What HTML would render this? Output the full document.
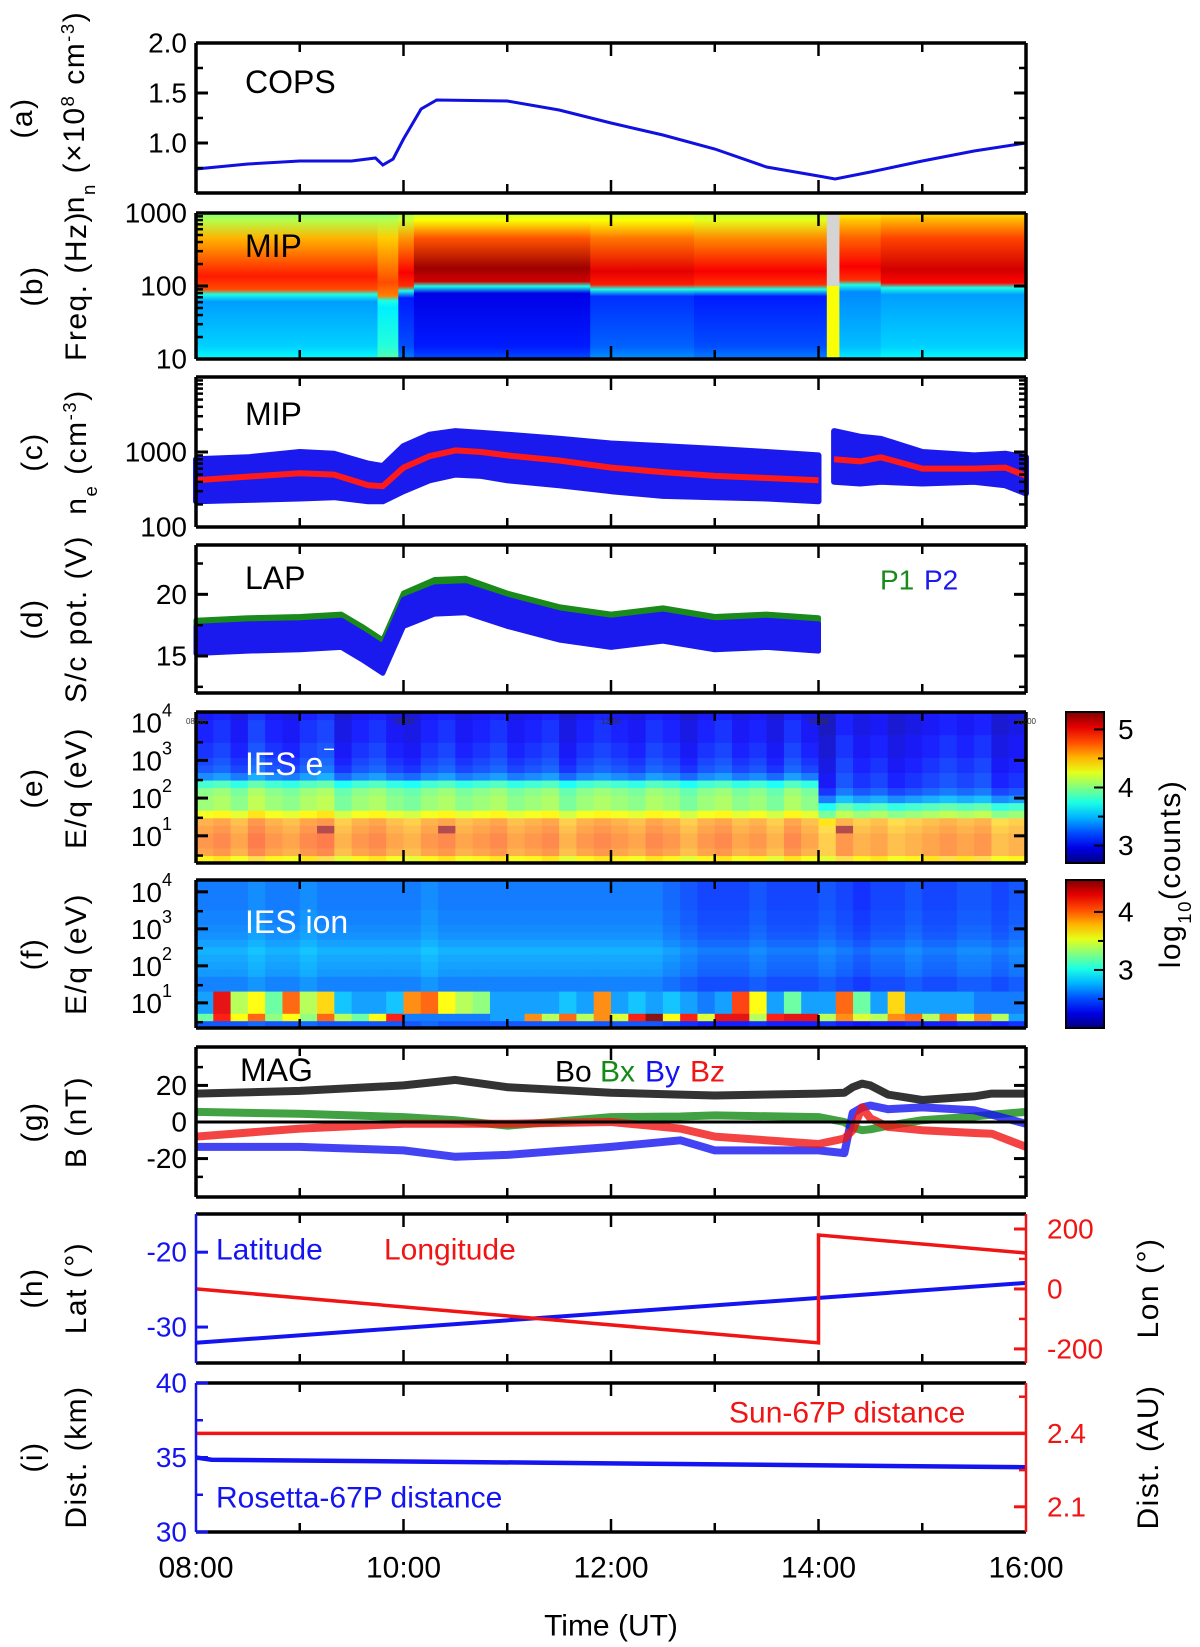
<!DOCTYPE html>
<html><head><meta charset="utf-8">
<style>
body{margin:0;background:#fff;}
svg{display:block;font-family:"Liberation Sans",Arial,sans-serif;}
</style></head>
<body>
<svg id="chart" width="1200" height="1647" viewBox="0 0 1200 1647" xmlns="http://www.w3.org/2000/svg"><defs id="defs"></defs></svg>
<script>
// ---------- DATA ----------
const hourTicks=[8,9,10,11,12,13,14,15,16];
const hourLabels=['08:00','','10:00','','12:00','','14:00','','16:00'];
// (a) COPS neutral density
const copsTime=[8.0,8.5,9.0,9.5,9.73,9.8,9.9,10.0,10.17,10.32,11.0,11.5,12.0,12.5,13.0,13.5,14.0,14.16,14.5,15.0,15.5,16.0];
const copsVal=[0.74,0.79,0.82,0.82,0.85,0.78,0.84,1.04,1.34,1.43,1.42,1.33,1.2,1.08,0.94,0.76,0.67,0.64,0.71,0.82,0.92,1.0];
// (b) MIP spectrogram segments
const bStart=[8.0,9.75,9.95,10.1,11.8,12.8,14.2,14.6];
const bEnd=[9.75,9.95,10.1,11.8,12.8,14.08,14.6,16.0];
const bCutoff=[85,70,95,110,100,100,115,105];
const bTopLevel=[0.55,0.55,0.58,0.62,0.62,0.6,0.68,0.7];
const bHotLevel=[0.85,0.8,0.88,0.97,0.9,0.88,0.88,0.92];
const bLowLevel=[0.28,0.36,0.15,0.1,0.17,0.15,0.26,0.28];
const bGap=[14.08,14.2];
// (c) MIP electron density
const cTime=[8.0,8.5,9.0,9.33,9.66,9.8,10.0,10.25,10.5,10.75,11.0,11.5,12.0,12.5,13.0,13.5,14.0,null,14.15,14.4,14.6,15.0,15.5,15.8,16.0];
const cMed=[420,470,520,500,360,350,620,880,1050,1000,900,770,620,540,480,450,420,null,800,750,850,600,600,620,480];
const cUp=[800,850,1000,950,700,650,1200,1700,1900,1800,1700,1500,1300,1200,1100,1000,900,null,1900,1600,1500,1000,900,950,850];
const cLo=[220,230,240,250,220,220,300,420,500,480,420,360,300,260,250,240,220,null,400,380,400,380,400,360,280];
// (d) LAP S/C potential
const dTime=[8.0,8.5,9.0,9.4,9.6,9.8,10.0,10.3,10.6,11.0,11.5,12.0,12.5,13.0,13.5,14.0];
const dP2=[16.3,16.5,16.6,16.8,15.8,14.7,18.5,19.5,19.6,18.5,17.4,16.8,17.3,16.6,16.8,16.5];
const dP1=[16.8,17.0,17.1,17.3,16.3,15.2,19.0,20.1,20.2,19.0,17.9,17.3,17.8,17.1,17.3,17.0];
// (e) IES electrons: row profiles (bottom->top, 0.2 decade bins from 10^0.28)
const eRowEarly=[4.35,4.65,4.7,4.7,4.65,4.6,4.3,4.05,4.05,4.0,3.8,3.35,3.2,3.15,3.1,3.1,3.05,3.05,3.05,3.0];
const eRowLate=[4.35,4.6,4.6,4.6,4.55,4.5,4.05,3.8,3.4,3.2,3.1,3.1,3.05,3.05,3.0,3.0,3.0,2.95,2.95,2.95];
const eCol=[0,0.05,-0.05,0.1,0,-0.05,0.05,0.1,-0.1,0,0.05,-0.05,-0.1,0,0.05,-0.05,0,0.05,-0.05,0,0.05,-0.1,0,0.05,0,-0.05,0.05,0,-0.1,0,0.05,-0.05,0,-0.1,0.05,-0.05,-0.1,0.1,0,0.05,-0.05,0,0.05,0.1,0.05,0.1,-0.05,0];
const eSpotCol=[7,14,37];
const eSpotRow=[4,4,4];
const eSpotVal=[5.25,5.25,5.25];
// (f) IES ions
const fRowBg=[2.5,2.6,2.6,2.6,2.6,2.62,2.62,2.68,2.7,2.72,2.75,2.7,2.66,2.64,2.62,2.62,2.6,2.6,2.6,2.6];
const fLow=[3.2,4.2,3.6,4.0,3.3,3.6,3.3,4.0,3.4,3.2,3.6,4.2,2.6,2.6,2.6,2.6,2.6,2.7,2.7,3.9,3.4,4.0,3.4,3.9,3.5,4.2,4.55,3.6,4.2,3.5,4.3,4.3,3.4,4.2,4.3,4.3,3.4,3.9,3.5,3.4,3.9,4.0,3.4,4.0,3.5,3.9,3.4,2.7];
const fHigh=[2.7,4.3,3.4,3.6,3.2,4.0,3.4,3.7,2.8,2.7,2.7,2.8,3.9,4.0,3.6,3.4,3.3,2.7,2.7,2.7,2.7,2.8,2.7,3.9,2.7,2.8,2.7,2.8,2.7,2.6,2.7,4.1,3.6,2.7,3.2,2.7,2.7,4.0,3.2,2.7,3.7,2.7,2.7,2.7,2.7,2.6,2.6,2.6];
const fCol=[0,0,0,0.05,0,0,0.05,0,0,0,0,0,0,0.05,0,0,0,0,0,0,0,0,0,0,0,0,0,-0.05,-0.1,-0.15,-0.15,-0.15,-0.1,-0.15,-0.15,-0.15,-0.1,-0.15,-0.2,-0.15,-0.15,-0.1,-0.15,-0.15,-0.1,-0.1,-0.15,-0.1];
// (g) MAG
const gTime=[8.0,9.0,10.0,10.5,11.0,12.0,12.67,13.0,14.0,14.25,14.33,14.42,14.5,14.67,15.0,15.5,15.67,16.0];
const gBo=[15.5,17,20,23,19,16,15,14.5,15.5,16,19,21,20,15,12,14,15.5,15.5];
const gBx=[5.5,4.5,2.7,1,-2,2.7,3,3.6,2.7,0,-3,-4.5,-4,-2,1,3,4,5.5];
const gBy=[-13.6,-13.6,-15.5,-19,-18,-13.6,-10,-15.5,-15.5,-17,5,8,9,7,8,6.4,4,-1];
const gBz=[-8,-3.6,-1,-1,-1,0,-3.6,-8,-12,-9,-4.5,8,2,-2.7,-4.5,-6,-6.4,-13.6];
// (h) Lat / Lon
const hTime=[8.0,16.0];
const hLat=[-32.1,-24.1];
const lonTime=[8.0,14.0,14.0,16.0];
const lonVal=[0,-180,180,120];
// (i) distances
const iTime=[8.0,8.15,16.0];
const iKm=[35.0,34.85,34.35];
const iAU=[2.4,2.4,2.4];

// ---------- HELPERS ----------
const NS='http://www.w3.org/2000/svg';
const svg=document.getElementById('chart');
const defs=document.getElementById('defs');
function mk(tag,attrs,parent){const e=document.createElementNS(NS,tag);for(const k in attrs)e.setAttribute(k,attrs[k]);(parent||svg).appendChild(e);return e;}
const X0=196,X1=1026;
function xs(t){return X0+(t-8)/8*(X1-X0);}
function lin(d0,d1,yb,yt){return v=>yb+(v-d0)/(d1-d0)*(yt-yb);}
function lg(d0,d1,yb,yt){return v=>yb+(Math.log10(v)-d0)/(d1-d0)*(yt-yb);}
function cl(v){return Math.max(0,Math.min(1,v));}
function jet(v,w){v=cl(v);let r=cl(1.5-Math.abs(4*v-3)),g=cl(1.5-Math.abs(4*v-2)),b=cl(1.5-Math.abs(4*v-1));w=w||0;
 r=r*(1-w)+w;g=g*(1-w)+w;b=b*(1-w)+w;return `rgb(${Math.round(r*255)},${Math.round(g*255)},${Math.round(b*255)})`;}
function path(ts,vs,sx,sy){let d='',pen=false;for(let i=0;i<ts.length;i++){if(ts[i]===null){pen=false;continue;}d+=(pen?'L':'M')+sx(ts[i]).toFixed(1)+','+sy(vs[i]).toFixed(1);pen=true;}return d;}
function segs(ts){const out=[];let cur=[];ts.forEach((t,i)=>{if(t===null){if(cur.length)out.push(cur);cur=[];}else cur.push(i);});if(cur.length)out.push(cur);return out;}

const P={a:[43,193],b:[213,359],c:[377,527],d:[545,693],e:[712,863],f:[880,1028],g:[1047,1197],h:[1214,1363],i:[1383,1532]};
const ya=lin(0.5,2.0,193,43), yb=lg(1,3,359,213), yc=lg(2,4,527,377), yd=lin(12,24,693,545);
const ye=lg(0.28,4.28,863,712), yf=lg(0.32,4.32,1028,880), yg=lin(-41,41,1197,1047);
const yhLat=lin(-34.8,-14.9,1363,1214), yhLon=lin(-247,250,1363,1214);
const yiKm=lin(30,40,1532,1383), yiAU=lin(1.997,2.606,1532,1383);

function frame(key,name,leftColor,rightColor){
 const [t,b]=P[key];
 const g=mk('g',{});
 
 
 mk('line',{x1:X0,y1:t,x2:X1,y2:t,stroke:'#000','stroke-width':3.5},g);
 mk('line',{x1:X0,y1:b,x2:X1,y2:b,stroke:'#000','stroke-width':3.5},g);
 mk('line',{x1:X0,y1:t,x2:X0,y2:b,stroke:leftColor||'#000','stroke-width':leftColor?2.5:3.5},g);
 mk('line',{x1:X1,y1:t,x2:X1,y2:b,stroke:rightColor||'#000','stroke-width':rightColor?2.5:3.5},g);
 hourTicks.forEach((h,i)=>{const L=(h%2===0)?13:9;const x=xs(h);
  if(h>8&&h<16){mk('line',{x1:x,y1:t,x2:x,y2:t+L,stroke:'#000','stroke-width':2.5},g);
  mk('line',{x1:x,y1:b,x2:x,y2:b-L,stroke:'#000','stroke-width':2.5},g);}});
 return g;
}
function yticks(key,scale,major,minor,color,side){
 const g=mk('g',{});
 
 
 const x=side==='right'?X1:X0, dir=side==='right'?-1:1;
 major.forEach(v=>mk('line',{x1:x,y1:scale(v),x2:x+dir*12,y2:scale(v),stroke:color||'#000','stroke-width':3},g));
 (minor||[]).forEach(v=>mk('line',{x1:x,y1:scale(v),x2:x+dir*7,y2:scale(v),stroke:color||'#000','stroke-width':2.5},g));
}
function tlabel(str,x,y,opt){opt=opt||{};
 const e=mk('text',{x:x,y:y,'font-size':opt.size||28,'text-anchor':opt.anchor||'end',fill:opt.fill||'#000','dominant-baseline':'central'});
 e.textContent=str;return e;}
function ylabel(txtParts,x,cy,size,name,fill){
 const e=mk('text',{transform:`translate(${x},${cy}) rotate(-90)`,'font-size':size||30,'text-anchor':'middle',fill:fill||'#000','letter-spacing':1.5});
 
 
 txtParts.forEach(p=>{const s=mk('tspan',{},e);s.textContent=p[0];if(p[1]){s.setAttribute('baseline-shift',p[1]);s.setAttribute('font-size',(size||30)*0.62);}});
 return e;}
function panelTitle(str,x,y,fill,name){const e=mk('text',{x:x,y:y,'font-size':32,fill:fill||'#000','dominant-baseline':'central'});e.textContent=str;
 
 
 return e;}

// ---------- (a) COPS ----------
(function(){
 const l=mk('path',{d:path(copsTime,copsVal,xs,ya),fill:'none',stroke:'#1010e0','stroke-width':3});
 
 
 frame('a','panel-a');
 yticks('a',ya,[1.0,1.5,2.0],[0.75,1.25,1.75]);
 yticks('a',ya,[1.0,1.5,2.0],[0.75,1.25,1.75],null,'right');
 [[1.0,'1.0'],[1.5,'1.5'],[2.0,'2.0']].forEach(v=>{const t=tlabel(v[1],187,ya(v[0]));
  
  });
 panelTitle('COPS',245,82,null,'cops-title');
 ylabel([['(a)']],32,118,30,'panel-a-letter');
 ylabel([['n'],['n','sub'],[' (×10'],['8','super'],[' cm'],['-3','super'],[')']],84,112,30,'panel-a-y-title');
})();

// ---------- (b) MIP spectrogram ----------
(function(){
 const [top,bot]=P.b;const H=bot-top;
 const g=mk('g',{});
 
 
 function off(y){return cl((y-top)/H);}
 bStart.forEach((s,i)=>{
  const id='gb'+i;
  const gr=mk('linearGradient',{id:id,x1:0,y1:top,x2:0,y2:bot,gradientUnits:'userSpaceOnUse'},defs);
  const c=bCutoff[i];
  const stops=[[0,jet(bTopLevel[i]-0.05)],[off(yb(800)),jet(bTopLevel[i])],[off(yb(450)),jet((bTopLevel[i]+bHotLevel[i])/2)],[off(yb(c*1.6)),jet(bHotLevel[i])],[off(yb(c*1.05)),jet(bHotLevel[i]-0.05)],[off(yb(c*0.9)),jet(0.4)],[off(yb(c*0.72)),jet(bLowLevel[i])],[off(yb(15)),jet(bLowLevel[i]+0.05)],[1,jet(bLowLevel[i]+0.1)]];
  stops.forEach(st=>mk('stop',{offset:st[0],'stop-color':st[1]},gr));
  const r=mk('rect',{x:xs(s),y:top,width:xs(bEnd[i])-xs(s)+0.6,height:H,fill:`url(#${id})`},g);
  
  
 });
 const gy=mk('rect',{x:xs(bGap[0]),y:yb(100),width:xs(bGap[1])-xs(bGap[0]),height:bot-yb(100),fill:jet(0.62)},g);
 
 
 const gg=mk('rect',{x:xs(bGap[0]),y:top,width:xs(bGap[1])-xs(bGap[0]),height:yb(100)-top,fill:'#d4d4d4'},g);
 
 
 frame('b','panel-b');
 const minors=[];[10,100].forEach(d=>{for(let k=2;k<10;k++)minors.push(d*k);});
 yticks('b',yb,[10,100,1000],minors);
 yticks('b',yb,[10,100,1000],[],null,'right');
 [[10,'10'],[100,'100'],[1000,'1000']].forEach(v=>{const t=tlabel(v[1],187,yb(v[0]));
  
  });
 panelTitle('MIP',245,246,null,'mip-spectrogram-title');
 ylabel([['(b)']],42,286,30,'panel-b-letter');
 ylabel([['Freq. (Hz)']],86,286,30,'panel-b-y-title');
})();

// ---------- (c) MIP density ----------
(function(){
 segs(cTime).forEach(idx=>{
  let d='';idx.forEach((i,k)=>{d+=(k?'L':'M')+xs(cTime[i]).toFixed(1)+','+yc(cUp[i]).toFixed(1);});
  idx.slice().reverse().forEach(i=>{d+='L'+xs(cTime[i]).toFixed(1)+','+yc(cLo[i]).toFixed(1);});
  const p=mk('path',{d:d+'Z',fill:'#1a1aee',stroke:'#1a1aee','stroke-width':6,'stroke-linejoin':'round'});
  
  
 });
 const m=mk('path',{d:path(cTime,cMed,xs,yc),fill:'none',stroke:'#ff1a1a','stroke-width':6,'stroke-linejoin':'round'});
 
 
 frame('c','panel-c');
 const minors=[];[100,1000].forEach(d=>{for(let k=2;k<10;k++)minors.push(d*k);});
 yticks('c',yc,[100,1000,10000],minors);
 yticks('c',yc,[100,1000,10000],minors,null,'right');
 [[100,'100'],[1000,'1000']].forEach(v=>{const t=tlabel(v[1],187,yc(v[0]));
  
  });
 panelTitle('MIP',245,414,null,'mip-density-title');
 ylabel([['(c)']],42,452,30,'panel-c-letter');
 ylabel([['n'],['e','sub'],[' (cm'],['-3','super'],[')']],86,452,30,'panel-c-y-title');
})();

// ---------- (d) LAP ----------
(function(){
 function band(vals,color,name){
  let d='';dTime.forEach((t,i)=>{d+=(i?'L':'M')+xs(t).toFixed(1)+','+yd(vals[i]+1.1).toFixed(1);});
  for(let i=dTime.length-1;i>=0;i--)d+='L'+xs(dTime[i]).toFixed(1)+','+yd(vals[i]-1.1).toFixed(1);
  const p=mk('path',{d:d+'Z',fill:color,stroke:color,'stroke-width':5,'stroke-linejoin':'round'});
  
  
 }
 band(dP1,'#1a8a1a','lap-p1-potential');
 band(dP2,'#1a1aee','lap-p2-potential');
 frame('d','panel-d');
 yticks('d',yd,[15,20],[12.5,17.5,22.5]);
 yticks('d',yd,[15,20],[12.5,17.5,22.5],null,'right');
 [[15,'15'],[20,'20']].forEach(v=>{const t=tlabel(v[1],187,yd(v[0]));
  
  });
 panelTitle('LAP',245,578,null,'lap-title');
 const p1=mk('text',{x:880,y:580,'font-size':28,fill:'#1a8a1a','dominant-baseline':'central'});p1.textContent='P1';
 
 
 const p2=mk('text',{x:924,y:580,'font-size':28,fill:'#1a1aee','dominant-baseline':'central'});p2.textContent='P2';
 
 
 ylabel([['(d)']],42,619,30,'panel-d-letter');
 ylabel([['S/c pot. (V)']],86,619,30,'panel-d-y-title');
})();

// ---------- heatmap helper ----------
function decadeLabels(key,scale){
 [1,2,3,4].forEach(k=>{
  const e=mk('text',{x:172,y:scale(Math.pow(10,k)),'font-size':28,'text-anchor':'end','dominant-baseline':'central'});
  const s1=mk('tspan',{},e);s1.textContent='10';
  const s2=mk('tspan',{'font-size':18,dy:-12},e);s2.textContent=String(k);
  
  
 });
}
function colorbar(key,top,bot,vmin,vmax,labels,minor){
 const id='cb'+key;
 const gr=mk('linearGradient',{id:id,x1:0,y1:1,x2:0,y2:0},defs);
 for(let k=0;k<=10;k++)mk('stop',{offset:k/10,'stop-color':jet(k/10)},gr);
 const r=mk('rect',{x:1066,y:top,width:38,height:bot-top,fill:`url(#${id})`,stroke:'#000','stroke-width':2});
 
 
 const sc=lin(vmin,vmax,bot,top);
 labels.forEach(v=>{mk('line',{x1:1104,y1:sc(v),x2:1094,y2:sc(v),stroke:'#000','stroke-width':2});
  const t=tlabel(String(v),1118,sc(v),{anchor:'start'});
  
  });
 (minor||[]).forEach(v=>mk('line',{x1:1104,y1:sc(v),x2:1098,y2:sc(v),stroke:'#000','stroke-width':2}));
}

// ---------- (e) IES electrons ----------
(function(){
 const g=mk('g',{});
 
 
 const vmin=2.7,vmax=5.3,nC=eCol.length,nR=eRowEarly.length;
 for(let c=0;c<nC;c++){const t0=8+c*8/nC,t1=8+(c+1)*8/nC;const prof=t0>=14?eRowLate:eRowEarly;
  for(let r=0;r<nR;r++){let v=prof[r]+eCol[c];
   for(let s=0;s<eSpotCol.length;s++)if(eSpotCol[s]===c&&eSpotRow[s]===r)v=eSpotVal[s];
   const y1=ye(Math.pow(10,0.28+r*0.2)),y0=ye(Math.pow(10,0.28+(r+1)*0.2));
   const w=v>4.4?0.3:0.1;
   const cell=mk('rect',{x:xs(t0),y:y0,width:xs(t1)-xs(t0)+0.6,height:y1-y0+0.6,fill:jet((v-vmin)/(vmax-vmin),w)},g);
   
   
  }}
 frame('e','panel-e');
 yticks('e',ye,[10,100,1000,10000],[3,30,300,3000]);
 yticks('e',ye,[10,100,1000,10000],[],null,'right');
 decadeLabels('e',ye);
 hourTicks.forEach((h,i)=>{if(!hourLabels[i])return;const t=mk('text',{x:xs(h),y:724,'font-size':8,'text-anchor':'middle',fill:'#333'});t.textContent=hourLabels[i];
  
  });
 const tt=mk('text',{x:245,y:764,'font-size':32,fill:'#fff','dominant-baseline':'central'});
 
 
 const a=mk('tspan',{},tt);a.textContent='IES e';const b=mk('tspan',{'font-size':20,dy:-14},tt);b.textContent='−';
 colorbar('e',712,863,2.7,5.3,[3,4,5],[3.5,4.5]);
 ylabel([['(e)']],42,788,30,'panel-e-letter');
 ylabel([['E/q (eV)']],86,788,30,'panel-e-y-title');
})();

// ---------- (f) IES ions ----------
(function(){
 const g=mk('g',{});
 
 
 const vmin=2.0,vmax=4.55,nC=fCol.length,nR=fRowBg.length;
 for(let c=0;c<nC;c++){const t0=8+c*8/nC,t1=8+(c+1)*8/nC;
  for(let r=0;r<nR;r++){let v;
   if(r===1)v=fLow[c];else if(r>=2&&r<=4)v=fHigh[c];else v=fRowBg[r]+fCol[c];
   const y1=yf(Math.pow(10,0.32+r*0.2)),y0=yf(Math.pow(10,0.32+(r+1)*0.2));
   const cell=mk('rect',{x:xs(t0),y:y0,width:xs(t1)-xs(t0)+0.6,height:y1-y0+0.6,fill:jet((v-vmin)/(vmax-vmin),0.08)},g);
   
   
  }}
 frame('f','panel-f');
 yticks('f',yf,[10,100,1000,10000],[3,30,300,3000]);
 yticks('f',yf,[10,100,1000,10000],[],null,'right');
 decadeLabels('f',yf);
 panelTitle('IES ion',245,922,'#fff','ies-ion-title');
 colorbar('f',880,1028,2.0,4.55,[3,4],[2.5,3.5]);
 ylabel([['(f)']],42,954,30,'panel-f-letter');
 ylabel([['E/q (eV)']],86,954,30,'panel-f-y-title');
 ylabel([['log'],['10','sub'],['(counts)']],1180,874,30,'colorbar-title');
})();

// ---------- (g) MAG ----------
(function(){
 [[gBo,'#000','mag-bo-line'],[gBx,'#138a13','mag-bx-line'],[gBy,'#1414f0','mag-by-line'],[gBz,'#f01414','mag-bz-line']].forEach(s=>{
  const p=mk('path',{d:path(gTime,s[0],xs,yg),fill:'none',stroke:s[1],'stroke-width':8,'stroke-linejoin':'round','stroke-opacity':0.8});
  
  
 });
 const z=mk('line',{x1:X0,y1:yg(0),x2:X1,y2:yg(0),stroke:'#000','stroke-width':3});
 
 
 frame('g','panel-g');
 yticks('g',yg,[-20,0,20],[-30,30]);
 yticks('g',yg,[-20,0,20],[-30,30],null,'right');
 [[-20,'-20'],[0,'0'],[20,'20']].forEach(v=>{const t=tlabel(v[1],187,yg(v[0]));
  
  });
 panelTitle('MAG',240,1070,null,'mag-title');
 let x=555;[['Bo','#000'],['Bx','#138a13'],['By','#1414f0'],['Bz','#f01414']].forEach(s=>{
  const t=mk('text',{x:x,y:1072,'font-size':30,fill:s[1],'dominant-baseline':'central'});t.textContent=s[0];
  
  
  x+=45;});
 ylabel([['(g)']],42,1122,30,'panel-g-letter');
 ylabel([['B (nT)']],86,1122,30,'panel-g-y-title');
})();

// ---------- (h) Lat/Lon ----------
(function(){
 const la=mk('path',{d:path(hTime,hLat,xs,yhLat),fill:'none',stroke:'#1414f0','stroke-width':4});
 
 
 const lo=mk('path',{d:path(lonTime,lonVal,xs,yhLon),fill:'none',stroke:'#f01414','stroke-width':3.5});
 
 
 frame('h','panel-h','#1414f0','#f01414');
 yticks('h',yhLat,[-20,-30],[],'#1414f0');
 yticks('h',yhLon,[-200,0,200],[-100,100],'#f01414','right');
 [[-20,'-20'],[-30,'-30']].forEach(v=>{const t=tlabel(v[1],187,yhLat(v[0]),{fill:'#1414f0'});
  
  });
 [[200,'200'],[0,'0'],[-200,'-200']].forEach(v=>{const t=tlabel(v[1],1047,yhLon(v[0]),{fill:'#f01414',anchor:'start'});
  
  });
 const l1=mk('text',{x:216,y:1250,'font-size':30,fill:'#1414f0','dominant-baseline':'central'});l1.textContent='Latitude';
 
 
 const l2=mk('text',{x:384,y:1250,'font-size':30,fill:'#f01414','dominant-baseline':'central'});l2.textContent='Longitude';
 
 
 ylabel([['(h)']],42,1288,30,'panel-h-letter');
 ylabel([['Lat (°)']],86,1288,30,'panel-h-y-title');
 ylabel([['Lon (°)']],1158,1288,30,'panel-h-right-y-title');
})();

// ---------- (i) distances ----------
(function(){
 const r=mk('path',{d:path(iTime,iAU,xs,yiAU),fill:'none',stroke:'#f01414','stroke-width':3.5});
 
 
 const b=mk('path',{d:path(iTime,iKm,xs,yiKm),fill:'none',stroke:'#1414f0','stroke-width':4.5});
 
 
 frame('i','panel-i','#1414f0','#f01414');
 yticks('i',yiKm,[30,35,40],[32.5,37.5],'#1414f0');
 yticks('i',yiAU,[2.1,2.4],[2.25,2.55],'#f01414','right');
 [[30,'30'],[35,'35'],[40,'40']].forEach(v=>{const t=tlabel(v[1],187,yiKm(v[0]),{fill:'#1414f0'});
  
  });
 [[2.1,'2.1'],[2.4,'2.4']].forEach(v=>{const t=tlabel(v[1],1047,yiAU(v[0]),{fill:'#f01414',anchor:'start'});
  
  });
 const s=mk('text',{x:729,y:1413,'font-size':30,fill:'#f01414','dominant-baseline':'central'});s.textContent='Sun-67P distance';
 
 
 const ro=mk('text',{x:216,y:1498,'font-size':30,fill:'#1414f0','dominant-baseline':'central'});ro.textContent='Rosetta-67P distance';
 
 
 ylabel([['(i)']],42,1457,30,'panel-i-letter');
 ylabel([['Dist. (km)']],86,1457,30,'panel-i-y-title');
 ylabel([['Dist. (AU)']],1158,1457,30,'panel-i-right-y-title');
})();

// ---------- x axis ----------
hourTicks.forEach((h,i)=>{if(!hourLabels[i])return;
 const t=mk('text',{x:xs(h),y:1568,'font-size':30,'text-anchor':'middle','dominant-baseline':'central'});t.textContent=hourLabels[i];
 
 });
const xt=mk('text',{x:611,y:1626,'font-size':30,'text-anchor':'middle','dominant-baseline':'central'});xt.textContent='Time (UT)';


</script>
</body></html>
